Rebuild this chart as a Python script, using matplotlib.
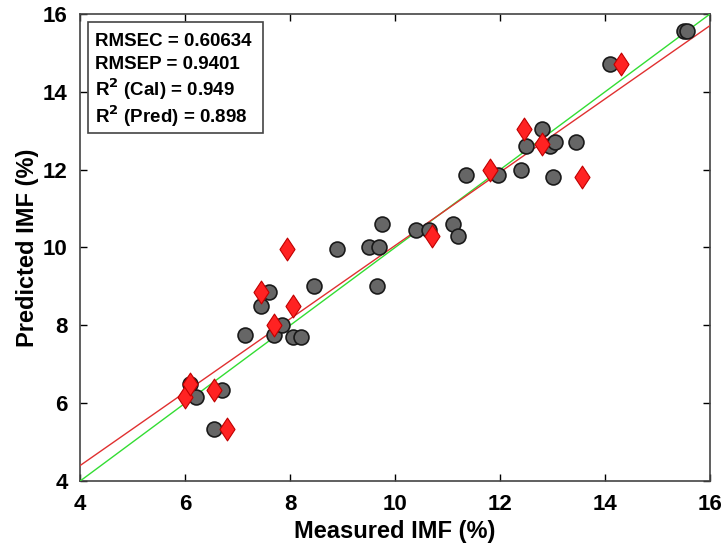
import numpy as np
import matplotlib
matplotlib.use("Agg")
import matplotlib.pyplot as plt
from matplotlib.patches import Rectangle
from matplotlib.path import Path

plt.rcParams["font.family"] = ["Liberation Sans", "DejaVu Sans"]

# calibration set (grey circles)
cal_measured = [6.1, 6.2, 6.55, 6.7, 7.15, 7.45, 7.6, 7.7, 7.85, 8.05, 8.2, 8.45,
                8.9, 9.5, 9.65, 9.7, 9.75, 10.4, 10.65, 11.1, 11.2, 11.35, 11.95,
                12.4, 12.5, 12.8, 12.95, 13.0, 13.05, 13.45, 14.1, 15.5, 15.55]
cal_predicted = [6.5, 6.15, 5.35, 6.35, 7.75, 8.5, 8.85, 7.75, 8.0, 7.7, 7.7, 9.0,
                 9.95, 10.0, 9.0, 10.0, 10.6, 10.45, 10.45, 10.6, 10.3, 11.85, 11.85,
                 12.0, 12.6, 13.05, 12.6, 11.8, 12.7, 12.7, 14.7, 15.55, 15.55]

# prediction set (red diamonds)
pred_measured = [6.0, 6.1, 6.55, 6.8, 7.45, 7.7, 7.95, 8.05, 10.7, 11.8, 12.45,
                 12.8, 13.55, 14.3]
pred_predicted = [6.15, 6.5, 6.35, 5.35, 8.85, 8.0, 9.95, 8.5, 10.3, 12.0, 13.05,
                  12.65, 11.8, 14.7]

# fitted lines (intercept, slope)
cal_fit = (0.0, 1.0)
pred_fit = (0.63, 0.942)

stats_text = ["RMSEC = 0.60634", "RMSEP = 0.9401",
              r"R$^\mathbf{2}$ (Cal) = 0.949", r"R$^\mathbf{2}$ (Pred) = 0.898"]

fig = plt.figure(figsize=(7.24, 5.53), dpi=100)
ax = fig.add_axes([0.1105, 0.130, 0.8705, 0.845])

xs = np.array([4, 16])
ax.plot(xs, cal_fit[0] + cal_fit[1] * xs, color="#33dd33", lw=1, zorder=3)
ax.plot(xs, pred_fit[0] + pred_fit[1] * xs, color="#e03030", lw=1, zorder=3)

# wide diamond like the original
diamond = Path([(0, 1), (0.66, 0), (0, -1), (-0.66, 0), (0, 1)],
               [Path.MOVETO, Path.LINETO, Path.LINETO, Path.LINETO, Path.CLOSEPOLY])

ax.scatter(cal_measured, cal_predicted, s=115, marker="o", facecolor="#666666",
           edgecolor="#1a1a1a", linewidth=1.2, zorder=4)
ax.scatter(pred_measured, pred_predicted, s=270, marker=diamond, facecolor="#ff2222",
           edgecolor="#c00000", linewidth=0.8, zorder=5)

ax.set_xlim(4, 16)
ax.set_ylim(4, 16)
ax.set_xticks(range(4, 17, 2))
ax.set_yticks(range(4, 17, 2))
ax.tick_params(direction="in", top=True, right=True, length=5, width=1,
               labelsize=16, pad=9)
for lab in ax.get_xticklabels() + ax.get_yticklabels():
    lab.set_fontweight("bold")
for sp in ax.spines.values():
    sp.set_color("#444444")
    sp.set_linewidth(1.2)

ax.set_xlabel("Measured IMF (%)", fontsize=17, fontweight="bold", labelpad=4)
ax.set_ylabel("Predicted IMF (%)", fontsize=17, fontweight="bold", labelpad=3)

# stats box
ax.add_patch(Rectangle((0.0127, 0.745), 0.277, 0.238, transform=ax.transAxes,
                       facecolor="white", edgecolor="#444444", linewidth=1.2, zorder=6))
for txt, yb in zip(stats_text, [0.9315, 0.882, 0.824, 0.767]):
    ax.text(0.0238, yb, txt, transform=ax.transAxes, fontsize=13.5,
            fontweight="bold", va="baseline", ha="left", zorder=7)

fig.savefig("out.png", dpi=100)
